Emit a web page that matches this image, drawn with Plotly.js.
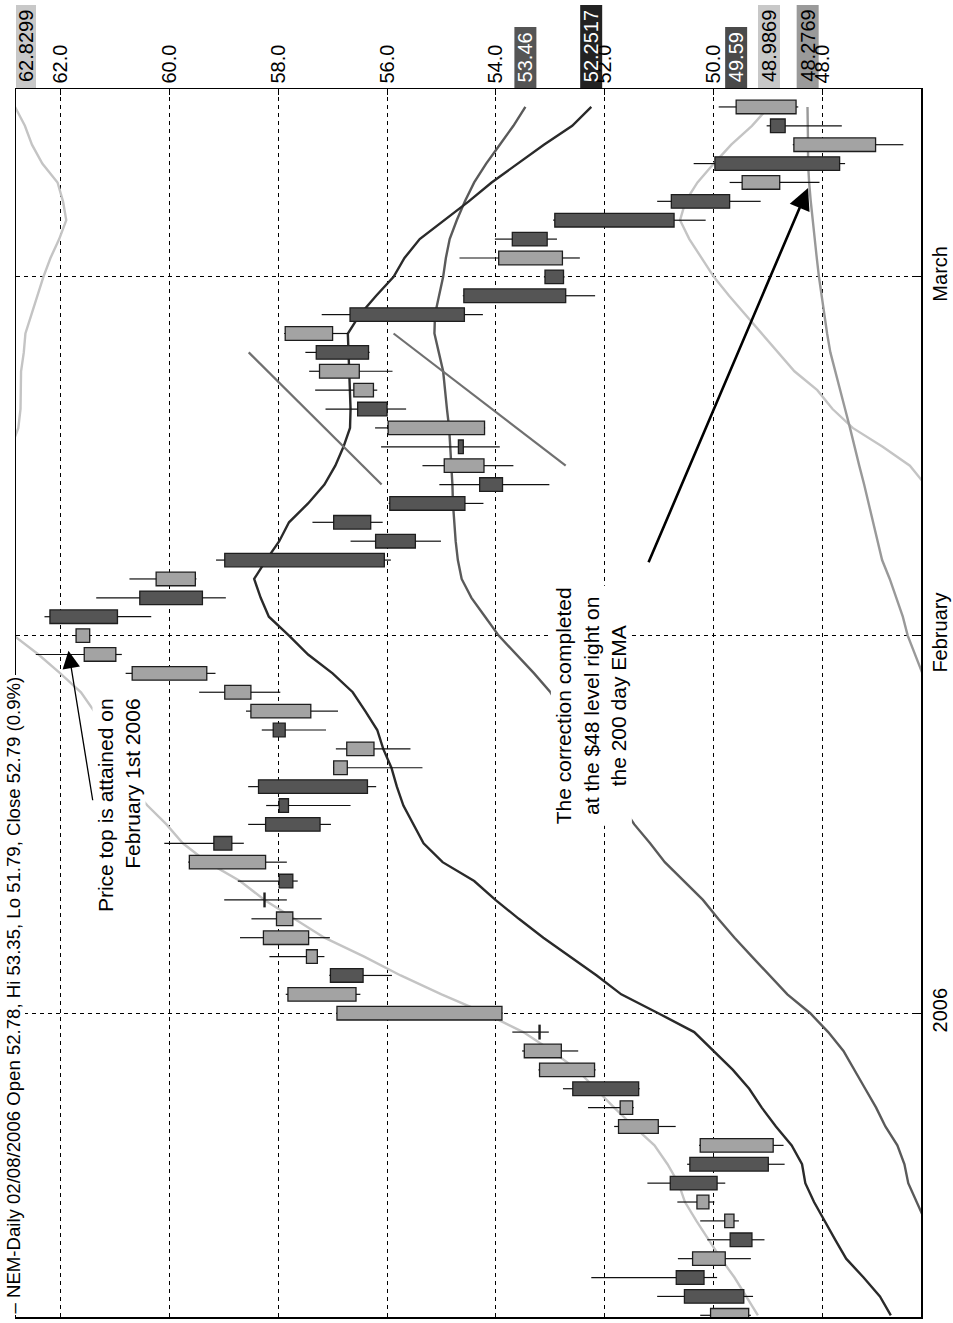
<!DOCTYPE html>
<html><head><meta charset="utf-8">
<script src="https://cdn.plot.ly/plotly-3.0.1.min.js"></script>
<style>html,body{margin:0;padding:0;background:#fff;}#chart{width:953px;height:1323px;}</style>
</head><body><div id="chart"></div>
<script>
// ---- data (chronological, trading days) ----
const dates = [
 '2005-12-08','2005-12-09','2005-12-12','2005-12-13','2005-12-14','2005-12-15','2005-12-16','2005-12-19','2005-12-20','2005-12-21',
 '2005-12-22','2005-12-23','2005-12-27','2005-12-28','2005-12-29','2005-12-30',
 '2006-01-03','2006-01-04','2006-01-05','2006-01-06','2006-01-09','2006-01-10','2006-01-11','2006-01-12','2006-01-13','2006-01-17',
 '2006-01-18','2006-01-19','2006-01-20','2006-01-23','2006-01-24','2006-01-25','2006-01-26','2006-01-27','2006-01-30','2006-01-31',
 '2006-02-01','2006-02-02','2006-02-03','2006-02-06','2006-02-07','2006-02-08','2006-02-09','2006-02-10','2006-02-13','2006-02-14',
 '2006-02-15','2006-02-16','2006-02-17','2006-02-21','2006-02-22','2006-02-23','2006-02-24','2006-02-27','2006-02-28',
 '2006-03-01','2006-03-02','2006-03-03','2006-03-06','2006-03-07','2006-03-08','2006-03-09','2006-03-10','2006-03-13','2006-03-14'];
const open = [49.36,50.54,50.69,49.79,49.70,49.63,50.09,50.80,50.44,48.91,51.02,51.49,52.59,52.19,52.80,53.21,
 53.89,56.57,57.04,57.28,57.44,57.73,58.26,57.98,58.23,59.18,58.23,57.98,58.36,56.73,56.24,58.09,57.40,58.50,59.31,60.98,
 61.46,62.19,60.54,59.52,58.98,56.21,56.98,55.95,54.30,54.22,54.69,54.21,56.54,56.25,56.51,57.30,57.00,56.68,54.59,
 53.10,52.78,53.70,52.92,50.78,48.79,49.98,47.03,48.96,48.49];
const high = [50.25,51.04,52.25,50.66,50.12,50.25,50.67,51.22,50.49,50.27,51.83,52.31,52.77,53.22,53.52,53.70,
 56.93,57.86,57.06,58.16,58.70,58.49,58.99,58.74,59.65,60.09,58.55,58.22,58.55,56.99,56.94,58.30,58.59,59.45,60.80,62.45,
 61.72,62.29,61.34,60.73,59.14,56.67,57.37,55.97,55.04,55.35,56.11,56.22,57.13,57.32,57.43,57.50,57.89,57.20,54.61,
 53.12,54.67,54.02,52.95,51.04,49.71,50.37,48.55,49.03,49.91];
const low = [49.32,49.28,49.94,49.32,49.07,49.54,49.99,49.79,48.70,48.72,50.70,51.47,51.36,52.17,52.49,53.03,
 53.88,56.49,55.91,57.15,57.05,57.20,57.84,57.64,57.84,58.63,57.03,56.67,56.20,55.35,55.57,57.12,56.90,57.96,59.15,60.87,
 61.45,60.33,58.96,59.50,55.93,55.01,56.08,54.23,53.02,53.68,53.93,54.20,55.65,56.18,55.90,56.32,56.72,54.24,52.18,
 52.74,52.46,52.88,50.15,49.14,48.06,47.59,46.52,47.65,48.45];
const close = [50.06,49.45,50.18,50.39,49.30,49.80,50.31,49.94,49.00,50.25,51.75,51.72,51.38,53.20,53.48,53.19,
 56.92,57.82,56.44,57.48,58.27,58.03,58.24,57.73,59.63,58.85,57.23,57.81,56.36,56.98,56.74,57.87,58.50,58.98,60.68,61.56,
 61.71,60.95,59.39,60.24,56.05,55.48,56.30,54.57,53.88,54.95,54.60,55.98,56.00,56.61,57.24,56.34,57.87,54.58,52.72,
 52.76,53.95,53.06,50.73,49.71,49.48,47.69,48.53,48.69,49.59];

// moving averages / bands (null = outside the drawn window)
const emaFast = [46.75,46.95,47.25,47.57,47.77,47.97,48.16,48.32,48.38,48.57,48.86,49.12,49.35,49.65,50.00,50.36,
 51.02,51.70,52.15,52.65,53.13,53.58,54.01,54.40,54.98,55.33,55.52,55.70,55.82,55.92,56.07,56.18,56.40,56.63,57.00,57.45,
 57.80,58.17,58.32,58.44,58.22,57.98,57.80,57.45,57.15,56.95,56.80,56.68,56.67,56.68,56.69,56.70,56.72,56.50,56.20,
 55.88,55.68,55.40,54.95,54.50,54.08,53.60,53.12,52.60,52.25];
const emaSlow = [null,null,null,null,null,46.12,46.28,46.43,46.50,46.63,46.85,47.02,47.22,47.42,47.62,47.90,
 48.23,48.65,48.98,49.30,49.62,49.92,50.20,50.55,50.90,51.17,51.46,51.69,51.91,52.13,52.35,52.56,52.78,53.00,53.30,53.62,
 53.95,54.20,54.45,54.63,54.70,54.74,54.77,54.79,54.80,54.82,54.84,54.86,54.90,54.94,54.97,55.05,55.13,55.12,55.05,
 54.97,54.92,54.85,54.72,54.57,54.40,54.18,53.93,53.68,53.46];
const ema200 = [null,null,null,null,null,null,null,null,null,null,null,null,null,null,null,null,
 null,null,null,null,null,null,null,null,null,null,null,null,null,null,null,null,null,null,46.17,46.31,
 46.44,46.53,46.65,46.77,46.91,46.99,47.07,47.15,47.24,47.33,47.41,47.50,47.59,47.68,47.78,47.86,47.92,47.97,48.03,
 48.07,48.11,48.15,48.19,48.22,48.25,48.27,48.27,48.27,48.28];
const bandUpper = [49.19,49.40,49.62,49.87,50.10,50.32,50.53,50.65,50.85,51.09,51.47,51.83,52.17,52.51,52.97,53.50,
 54.20,55.00,55.75,56.42,57.15,57.70,58.25,58.70,59.30,59.75,60.05,60.40,60.70,61.00,61.15,61.25,61.38,61.62,62.00,62.40,
 62.85,null,null,null,null,null,null,null,null,null,62.90,62.77,62.73,62.73,62.72,62.67,62.64,62.53,62.42,
 62.31,62.18,62.02,61.89,61.95,62.05,62.33,62.52,62.65,62.83];
const bandLower = [null,null,null,null,null,null,null,null,null,null,null,null,null,null,null,null,
 null,null,null,null,null,null,null,null,null,null,null,null,null,null,null,null,null,null,null,null,
 null,null,null,null,null,null,null,null,46.12,46.40,46.90,47.45,47.82,48.10,48.52,48.82,49.12,49.42,49.72,
 50.00,50.22,50.45,50.62,50.52,50.30,50.00,49.68,49.30,48.99];

// hand-drawn trend lines (price, date)
const trendA_price = [58.54, 56.10];
const trendA_date  = ['2006-02-23','2006-02-13'];
const trendB_price = [55.88, 52.72];
const trendB_date  = ['2006-02-24','2006-02-14'];

// axis ticks
const priceTicks = [48,50,52,54,56,58,60,62];
const monthTickDates = ['2006-01-03','2006-02-01','2006-03-01'];
const monthTickText = ['2006','February','March'];

// last-value labels
const lastLabels = ['62.8299','53.46','52.2517','49.59','48.9869','48.2769'];
const lastLabelBg = ['#c8c8c8','#555555','#222222','#4a4a4a','#c8c8c8','#9a9a9a'];
const lastLabelFg = ['#000000','#ffffff','#ffffff','#ffffff','#000000','#000000'];

const titleText = '– NEM-Daily 02/08/2006 Open 52.78, Hi 53.35, Lo 51.79, Close 52.79 (0.9%)';
const note1 = 'Price top is attained on<br>February 1st 2006';
const note2 = 'The correction completed<br>at the $48 level right on<br>the 200 day EMA';

// ---- chart ----
const FONT = 'Liberation Sans, Arial, Helvetica, sans-serif';
const M = {l:16, r:32, t:89, b:6};
const W = 953, H = 1323;
const priceRange = [62.813, 46.196];
const dayRange = [-0.09, 64.95];
const pxX = px => (px - M.l) / (W - M.l - M.r);
const pxY = py => (H - M.b - py) / (H - M.t - M.b);

const bodyBase = open.map((o,i)=>Math.min(o, close[i]));
const bodySize = open.map((o,i)=>Math.max(Math.abs(close[i]-o), 0.02));
const bodyColor = open.map((o,i)=> close[i] >= o ? '#a3a3a3' : '#555555');
const wx = [], wy = [];
dates.forEach((d,i)=>{
  const top = Math.max(open[i], close[i]), bot = Math.min(open[i], close[i]);
  wx.push(low[i], bot, null, top, high[i], null);
  wy.push(d, d, null, d, d, null);
});

function line(y, color, w){ return {type:'scatter', mode:'lines', x:y, y:dates, xaxis:'x', yaxis:'y',
  line:{color:color, width:w}, hoverinfo:'skip', showlegend:false}; }

const traces = [
  line(bandUpper, '#c4c4c4', 2.4),
  line(bandLower, '#c4c4c4', 2.4),
  line(ema200, '#999999', 2.4),
  line(emaSlow, '#5a5a5a', 2.4),
  line(emaFast, '#2a2a2a', 2.4),
  {type:'scatter', mode:'lines', x:trendA_price, y:trendA_date, xaxis:'x', yaxis:'y', line:{color:'#707070', width:2.2}, hoverinfo:'skip', showlegend:false},
  {type:'scatter', mode:'lines', x:trendB_price, y:trendB_date, xaxis:'x', yaxis:'y', line:{color:'#707070', width:2.2}, hoverinfo:'skip', showlegend:false},
  {type:'bar', orientation:'h', y:dates, x:bodySize, base:bodyBase, width:0.72, xaxis:'x', yaxis:'y2',
   marker:{color:bodyColor, line:{color:'#1e1e1e', width:1.3}}, hoverinfo:'skip', showlegend:false},
  {type:'scatter', mode:'lines', x:wx, y:wy, xaxis:'x', yaxis:'y2', line:{color:'#111', width:1.2}, hoverinfo:'skip', showlegend:false}
];

const LABEL_FONT = 20;
const charW = ch => (ch === '.' ? 0.278 : 0.556);
const annotations = [];
const shapes = [];
lastLabels.forEach((t,i)=>{
  const v = parseFloat(t);
  const atEdge = v > priceRange[0] - 0.2;
  const len = Math.round(t.split('').reduce((s,c)=>s+charW(c),0) * LABEL_FONT) + 12;
  const box = {type:'rect', layer:'below', fillcolor:lastLabelBg[i], line:{width:0},
    xsizemode:'pixel', x0:-11, x1:11, yref:'paper', ysizemode:'pixel', yanchor:1, y0:0, y1:len};
  if (atEdge) { box.xref = 'paper'; box.xanchor = 0; box.x0 = 0; box.x1 = 20; }
  else { box.xref = 'x'; box.xanchor = v; }
  shapes.push(box);
  annotations.push({text:t, textangle:-90, xref: atEdge ? 'paper' : 'x', x: atEdge ? 0 : v,
    xshift: atEdge ? 10 : 0, xanchor:'center', yref:'paper', y:pxY(M.t - 1 - len/2), yanchor:'middle',
    showarrow:false, borderpad:0, font:{family:FONT, size:LABEL_FONT, color:lastLabelFg[i]}});
});
annotations.push({text:titleText, textangle:-90, xref:'paper', yref:'paper', x:pxX(13), y:pxY(675),
  xanchor:'center', yanchor:'top', showarrow:false, bgcolor:'#ffffff', borderpad:1,
  font:{family:FONT, size:18.6, color:'#000'}});
annotations.push({text:note1, textangle:-90, xref:'x', yref:'y', x:60.93, y:27.0, align:'right',
  showarrow:false, bgcolor:'#ffffff', borderpad:1, font:{family:FONT, size:21, color:'#000'}});
annotations.push({text:note2, textangle:-90, xref:'x', yref:'y', x:52.24, y:32.3, align:'center',
  showarrow:false, bgcolor:'#ffffff', borderpad:1, font:{family:FONT, size:21, color:'#000'}});
annotations.push({text:'', xref:'x', yref:'y', x:61.85, y:35.2, axref:'x', ayref:'y', ax:61.40, ay:27.2,
  showarrow:true, arrowhead:2, arrowsize:2.7, arrowwidth:1.3, arrowcolor:'#000', standoff:0});
annotations.push({text:'', xref:'x', yref:'y', x:48.27, y:59.7, axref:'x', ayref:'y', ax:51.21, ay:39.8,
  showarrow:true, arrowhead:2, arrowsize:1.65, arrowwidth:2.6, arrowcolor:'#000', standoff:0});

const gridCommon = {showgrid:true, gridcolor:'#000', gridwidth:1, griddash:'4px,4px', showline:true,
  linecolor:'#000', linewidth:1.5, mirror:true, zeroline:false, ticks:'inside', ticklen:6, tickcolor:'#000',
  tickangle:-90, tickfont:{family:FONT, size:20, color:'#000'}, fixedrange:true};

const layout = {
  width:W, height:H, margin:M, paper_bgcolor:'#fff', plot_bgcolor:'#fff', showlegend:false,
  font:{family:FONT, color:'#000'},
  xaxis: Object.assign({}, gridCommon, {range:priceRange, side:'top', tickvals:priceTicks,
    ticktext:priceTicks.map(v=>v.toFixed(1))}),
  yaxis: Object.assign({}, gridCommon, {type:'category', categoryorder:'array', categoryarray:dates,
    range:dayRange, side:'right', tickvals:monthTickDates, ticktext:monthTickText}),
  yaxis2: {type:'category', categoryorder:'array', categoryarray:dates, range:dayRange, overlaying:'y',
    side:'right', visible:false, showgrid:false, fixedrange:true},
  shapes: shapes,
  annotations: annotations
};

Plotly.newPlot('chart', traces, layout, {staticPlot:true, displayModeBar:false});
</script>
</body></html>
